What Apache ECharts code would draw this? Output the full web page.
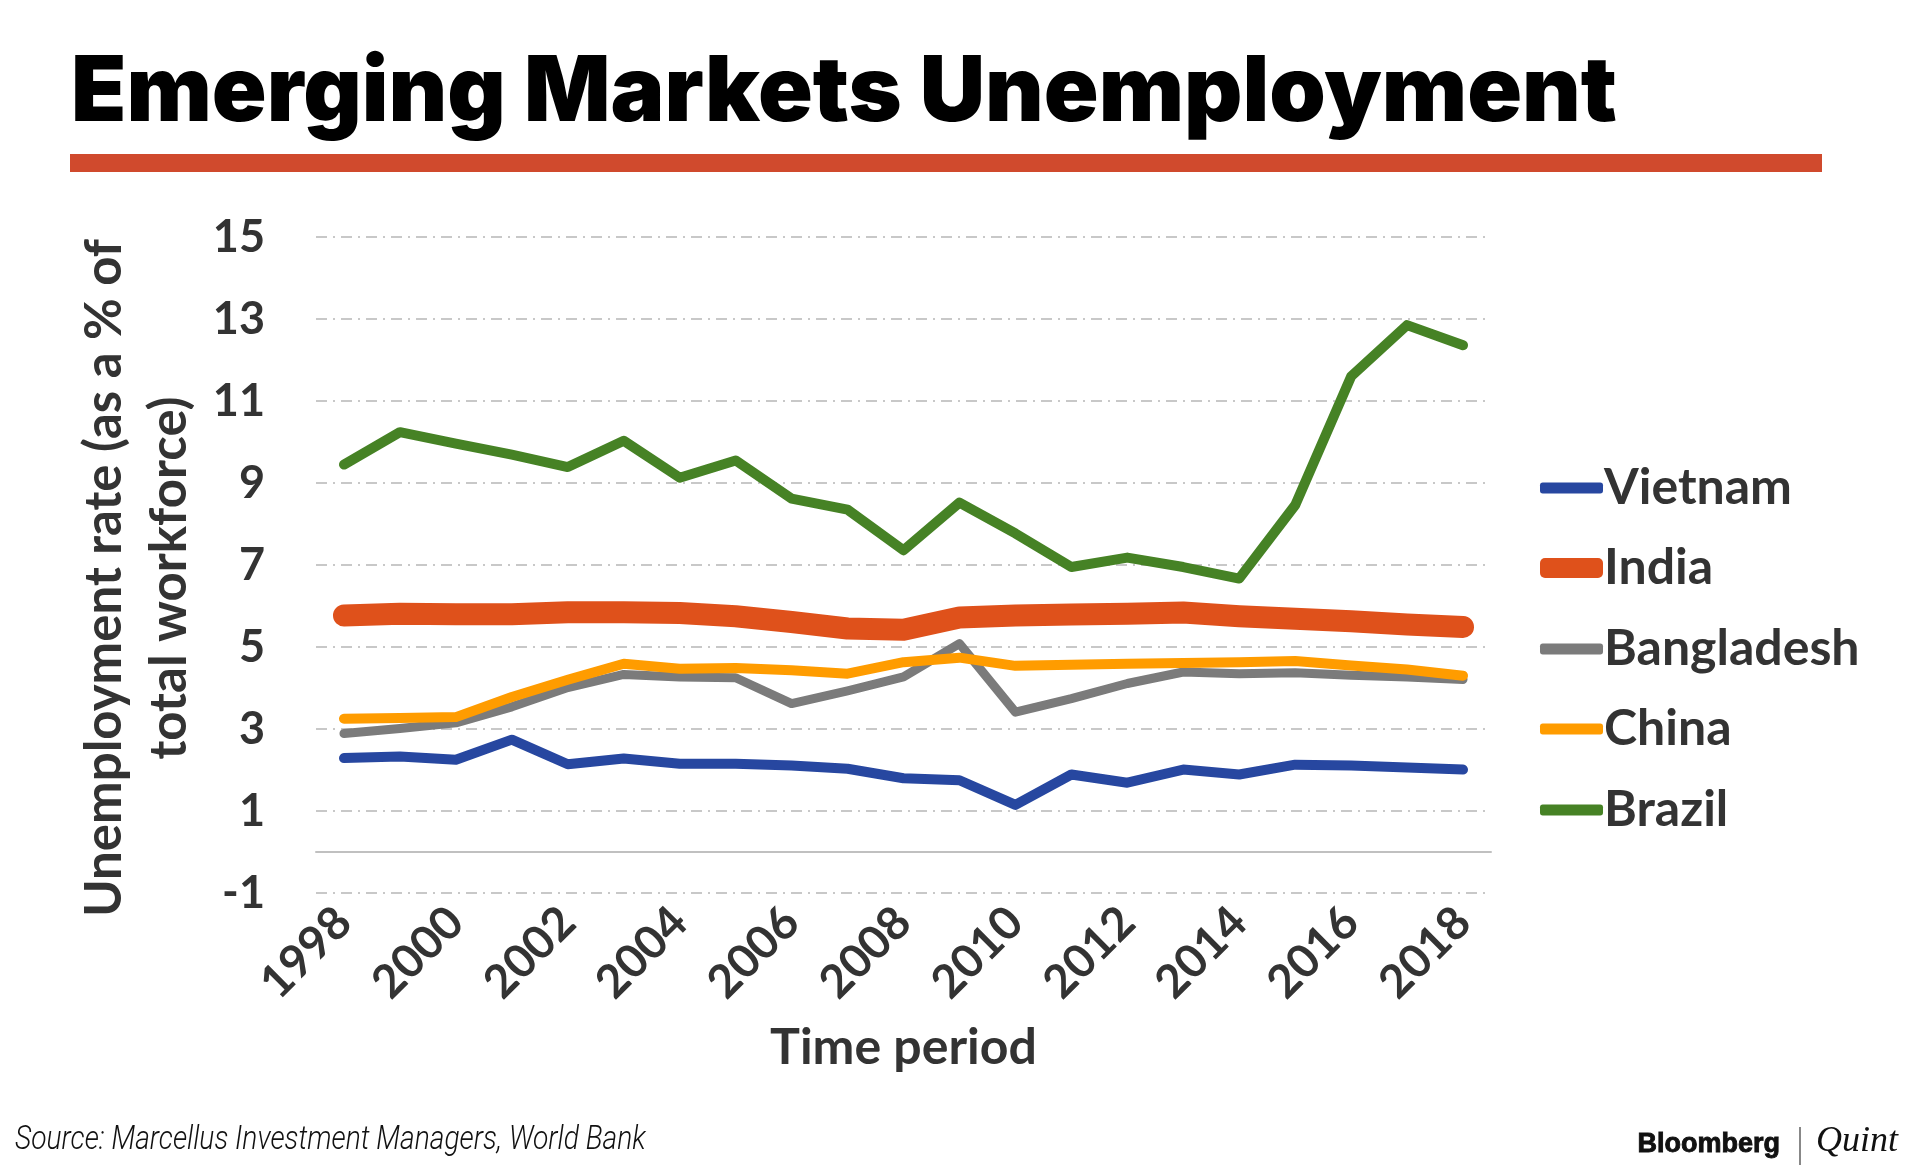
<!DOCTYPE html>
<html>
<head>
<meta charset="utf-8">
<script src="https://cdn.jsdelivr.net/npm/echarts@6.0.0/dist/echarts.min.js"></script>
<style>
html,body{margin:0;padding:0;background:#fff;}
#chart{width:1920px;height:1168px;}
</style>
</head>
<body>
<div id="chart"></div>
<script>
const years = ['1998','1999','2000','2001','2002','2003','2004','2005','2006','2007','2008','2009','2010','2011','2012','2013','2014','2015','2016','2017','2018'];
const yTicks = [-1, 1, 3, 5, 7, 9, 11, 13, 15];
const vietnam = [2.29, 2.33, 2.25, 2.74, 2.14, 2.28, 2.15, 2.15, 2.11, 2.03, 1.80, 1.75, 1.15, 1.89, 1.69, 2.01, 1.89, 2.13, 2.11, 2.06, 2.01];
const india = [5.77, 5.81, 5.80, 5.80, 5.85, 5.85, 5.83, 5.75, 5.61, 5.45, 5.42, 5.72, 5.77, 5.79, 5.81, 5.84, 5.75, 5.69, 5.63, 5.55, 5.49];
const bangladesh = [2.89, 3.01, 3.15, 3.54, 4.01, 4.33, 4.27, 4.25, 3.62, 3.93, 4.27, 5.08, 3.41, 3.74, 4.11, 4.39, 4.35, 4.37, 4.31, 4.27, 4.21];
const china = [3.25, 3.27, 3.29, 3.78, 4.20, 4.59, 4.47, 4.49, 4.43, 4.35, 4.63, 4.74, 4.54, 4.57, 4.59, 4.61, 4.63, 4.66, 4.55, 4.45, 4.30];
const brazil = [9.45, 10.24, 9.96, 9.69, 9.39, 10.03, 9.13, 9.55, 8.62, 8.35, 7.36, 8.52, 7.77, 6.95, 7.18, 6.95, 6.67, 8.46, 11.60, 12.85, 12.36];

const seriesNames = ['Vietnam', 'India', 'Bangladesh', 'China', 'Brazil'];
const seriesData = [vietnam, india, bangladesh, china, brazil];
const colors = ['#2747A0', '#DF511B', '#7B7B7B', '#FF9C00', '#468225'];
const widths = [10, 22, 9, 10, 10];
const legendHeights = [11, 20, 11, 11, 11];
const legendCenters = [488, 568, 649, 729, 810];

const labelFont = 'Lato, "Open Sans", sans-serif';
const textColor = '#333333';

const chart = echarts.init(document.getElementById('chart'), null, {renderer: 'canvas'});

const option = {
  backgroundColor: '#ffffff',
  animation: false,
  title: [{
    text: 'Emerging Markets Unemployment',
    left: 66,
    top: 37,
    textStyle: {fontFamily: 'Inter, Lato, sans-serif', fontWeight: 900, fontSize: 90.5, color: '#000000', lineHeight: 104}
  }],
  graphic: [
    {type: 'rect', shape: {x: 70, y: 154, width: 1752, height: 18}, style: {fill: '#D04A2D'}, silent: true},
    {type: 'text', x: 15, y: 1124, scaleX: 0.855, style: {text: 'Source: Marcellus Investment Managers, World Bank', font: 'italic 300 33px "Liberation Sans Narrow", "Roboto", sans-serif', fill: '#111111'}, silent: true},
    {type: 'text', left: 1637, top: 1131, style: {text: 'Bloomberg', font: 'bold 27px "Liberation Sans", Arial, sans-serif', fill: '#111111', stroke: '#111111', lineWidth: 0.9}, silent: true},
    {type: 'rect', shape: {x: 1799, y: 1127, width: 2, height: 38}, style: {fill: '#888888'}, silent: true},
    {type: 'text', left: 1816, top: 1124, style: {text: 'Quint', font: 'italic 36px "Liberation Serif", "DejaVu Serif", serif', fill: '#111111'}, silent: true}
  ],
  legend: seriesNames.map((name, i) => ({
    data: [name],
    left: 1540,
    top: legendCenters[i] - 27,
    orient: 'vertical',
    icon: 'roundRect',
    itemWidth: 63,
    itemHeight: legendHeights[i],
    selectedMode: false,
    padding: 0,
    textStyle: {fontFamily: labelFont, fontWeight: 'bold', fontSize: 50, color: textColor, lineHeight: 54, padding: [0, 0, 0, -4]}
  })),
  grid: {left: 316, right: 429, top: 237, bottom: 275, containLabel: false},
  xAxis: [{
    type: 'category',
    data: years,
    boundaryGap: true,
    axisLine: {show: false, onZero: false},
    axisTick: {show: false},
    axisLabel: {interval: 1, rotate: 45, margin: 22, fontFamily: labelFont, fontWeight: 'bold', fontSize: 46, color: textColor},
    name: 'Time period',
    nameLocation: 'middle',
    nameGap: 130,
    nameTextStyle: {fontFamily: labelFont, fontWeight: 'bold', fontSize: 50, color: textColor}
  }, {
    type: 'category',
    data: years,
    boundaryGap: true,
    position: 'bottom',
    axisLine: {show: true, onZero: true, lineStyle: {color: '#C0C0C0', width: 2}},
    axisTick: {show: false},
    axisLabel: {show: false},
    splitLine: {show: false}
  }],
  yAxis: {
    type: 'value',
    min: -1,
    max: 15,
    axisLine: {show: false},
    axisTick: {show: false, customValues: yTicks},
    axisLabel: {customValues: yTicks, margin: 51, fontFamily: labelFont, fontWeight: 'bold', fontSize: 45, color: textColor},
    splitLine: {show: true, lineStyle: {color: '#C8C8C8', width: 2, type: [11, 6, 2, 6]}},
    name: 'Unemployment rate (as a % of\ntotal workforce)',
    nameLocation: 'middle',
    nameGap: 101,
    nameTextStyle: {fontFamily: labelFont, fontWeight: 'bold', fontSize: 51, color: textColor, lineHeight: 65, align: 'center', padding: [0, 26, 0, 0]}
  },
  series: seriesNames.map((name, i) => ({
    name: name,
    type: 'line',
    xAxisIndex: 0,
    data: seriesData[i],
    color: colors[i],
    symbol: 'none',
    showSymbol: false,
    lineStyle: {color: colors[i], width: widths[i], cap: 'round', join: 'round'},
    itemStyle: {color: colors[i]},
    z: 2 + i
  }))
};
chart.setOption(option);
</script>
</body>
</html>
